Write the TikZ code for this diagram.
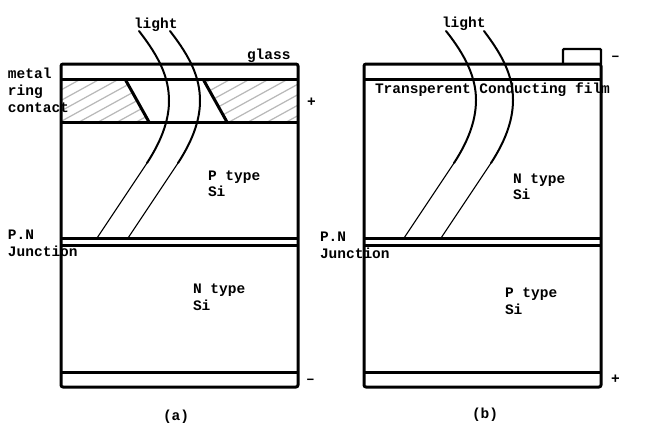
\documentclass[tikz,border=0pt]{standalone}
\usepackage{fontspec}
\setmainfont{Liberation Mono}[BoldFont={Liberation Mono Bold}]
\definecolor{hatchgray}{gray}{0.72}
\tikzset{
  cell/.style={line width=3pt,line join=round},
  layer/.style={line width=3pt},
  ray/.style={line width=2pt,line cap=round},
  raythin/.style={line width=1.1pt},
  hatchline/.style={hatchgray,line width=1.2pt},
  lbl/.style={anchor=base west,inner sep=0pt,outer sep=0pt,font=\fontsize{14.5pt}{14.5pt}\selectfont\bfseries},
}
\begin{document}
\begin{tikzpicture}[x=1pt,y=-1pt]
\useasboundingbox[fill=white] (0,0) rectangle (660,440);
% hatching
\begin{scope}
\clip (62,80) -- (125,80) -- (149,122) -- (62,122) -- cycle;
\foreach \k in {0,...,16} {\draw[hatchline] (40,{70+\k*10.5}) -- ++(120,-66);}
\end{scope}
\begin{scope}
\clip (203,80) -- (298,80) -- (298,122) -- (227,122) -- cycle;
\foreach \k in {0,...,20} {\draw[hatchline] (190,{70+\k*10.5}) -- ++(120,-66);}
\end{scope}
% cell a
\draw[cell,rounded corners=2pt] (61,64) rectangle (298,387);
\draw[layer] (61,79) -- (298,79);
\draw[layer] (62,122) -- (298,122);
\draw[layer] (61,238.5) -- (298,238.5);
\draw[layer] (61,245) -- (298,245);
\draw[layer] (61,372) -- (298,372);
\draw[layer] (125,79) -- (149,122);
\draw[layer] (203,79) -- (227,122);
% cell b
\draw[cell,rounded corners=2pt] (364,64) rectangle (601,387);
\draw[layer] (364,79) -- (601,79);
\draw[layer] (364,238.5) -- (601,238.5);
\draw[layer] (364,245) -- (601,245);
\draw[layer] (364,372) -- (601,372);
\draw[line width=2.4pt,rounded corners=1pt] (563,64) -- (563,49) -- (601,49) -- (601,64);
% rays a
\draw[ray] (139,31) .. controls (160,58) and (169,78) .. (169,101) .. controls (169,122) and (160,143) .. (147,163);
\draw[raythin] (147,163) -- (97,238);
\draw[ray] (170,31) .. controls (191,58) and (200,78) .. (200,101) .. controls (200,122) and (191,143) .. (178,163);
\draw[raythin] (178,163) -- (128,238);
% rays b
\draw[ray] (446,31) .. controls (466,56) and (476,78) .. (476,100) .. controls (476,122) and (467,143) .. (454,163);
\draw[raythin] (454,163) -- (404,238);
\draw[ray] (484,31) .. controls (503,56) and (513,76) .. (513,100) .. controls (513,122) and (504,143) .. (491,163);
\draw[raythin] (491,163) -- (441,238);
% labels a
\node[lbl] (lighta) at (134,28) {light};
\node[lbl] (glass) at (247,59) {glass};
\node[lbl] (metal) at (8,78) {metal};
\node[lbl] (ring) at (8,95) {ring};
\node[lbl] (contact) at (8,112) {contact};
\node[lbl] (plusa) at (307,106) {+};
\node[lbl] (ptypea) at (208,180) {P type};
\node[lbl] (sia) at (208,196) {Si};
\node[lbl] (pna) at (8,239) {P.N};
\node[lbl] (juna) at (8,256) {Junction};
\node[lbl] (ntypea) at (193,293) {N type};
\node[lbl] (sib) at (193,310) {Si};
\node[lbl] (minusa) at (306,383) {–};
\node[lbl] (capa) at (163,420) {(a)};
% labels b
\node[lbl] (lightb) at (442,27) {light};
\node[lbl] (film) at (375,93) {Transperent Conducting film};
\node[lbl] (minusb) at (611,60) {–};
\node[lbl] (pnb) at (320,241) {P.N};
\node[lbl] (junb) at (320,258) {Junction};
\node[lbl] (ntypeb) at (513,183) {N type};
\node[lbl] (sic) at (513,199) {Si};
\node[lbl] (ptypeb) at (505,297) {P type};
\node[lbl] (sid) at (505,314) {Si};
\node[lbl] (plusb) at (611,383) {+};
\node[lbl] (capb) at (472,418) {(b)};
\end{tikzpicture}
\end{document}
